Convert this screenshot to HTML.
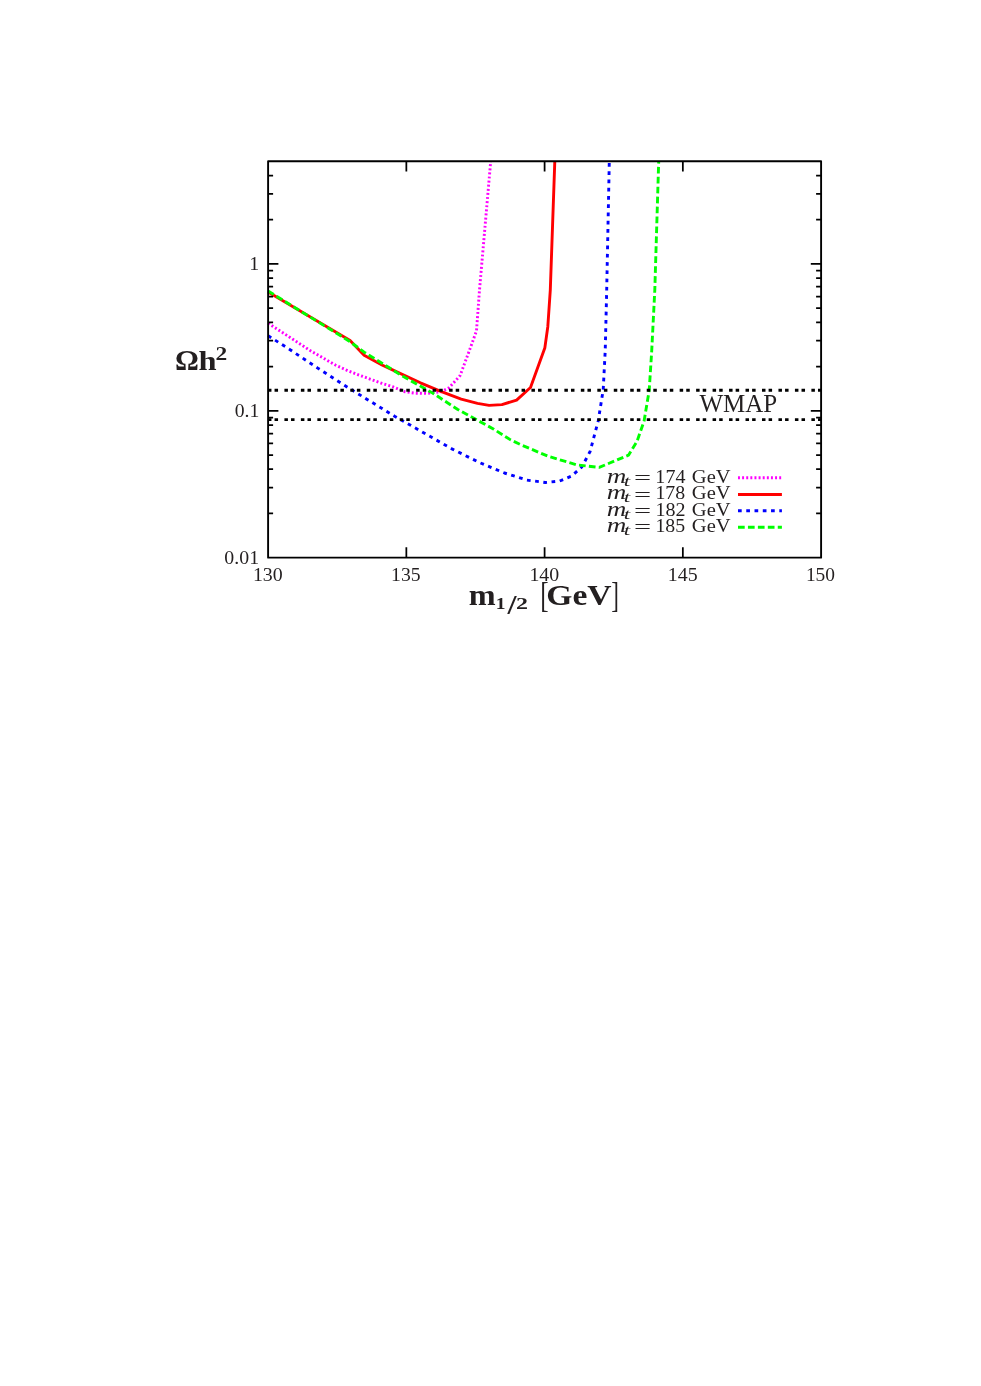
<!DOCTYPE html>
<html><head><meta charset="utf-8"><title>plot</title>
<style>
html,body{margin:0;padding:0;background:#fff;}
svg{display:block;}
text{font-family:"Liberation Serif",serif;fill:#231f20;}
.b{font-weight:bold;}
.i{font-style:italic;}
</style></head><body>
<svg width="981" height="1386" viewBox="0 0 981 1386">
<rect width="981" height="1386" fill="#fff"/>
<g fill="none" stroke-width="2.9" stroke-linejoin="round">
<polyline points="268.1,323.2 286.5,335.1 310.9,351 335.4,365 347.6,370.6 359.9,375.4 382,383.4 392.5,386.6 404.7,391.7 415,393.2 426.5,393.4 440.8,391.9 448.9,387.9 460.1,375.6 471.4,345 476.5,330.8 479.5,290 490.7,161.3" stroke="#f0f" stroke-dasharray="1.95 2.17"/>
<polyline points="268.1,292.0 350.1,340.6 364.1,355.3 382,365 392.5,369.9 420.4,382.8 440.8,391.3 461.2,399.1 477.5,403.4 489.1,405.4 501.9,404.6 516.6,400.1 530.5,387.5 544.8,348.1 547.8,326.7 550.3,290 554.8,161.3" stroke="#f00"/>
<polyline points="268.1,335.7 290.1,349.75 317.7,368.1 345.2,385.8 366,398.7 394.6,416.2 451.4,448.6 480,462.8 504.5,473 526.9,480.1 545.2,482.5 559.5,481.1 571.7,476 581.9,466.8 590.1,451.5 598.2,421 603.2,389.9 605.2,351.2 606.7,290 609.3,161.3" stroke="#00f" stroke-dasharray="3.7 4.56"/>
<polyline points="268.1,291.0 349.7,341.4 364.1,352.2 382,363.2 392.5,369.7 400,374.6 432.6,393 457.8,409.5 493.8,429.2 510.6,439.9 521.4,445 548.5,456.4 577,464.9 599.2,467.4 628.5,455.2 637,441.4 644.1,421 649.2,390.4 651.7,351.2 654.8,290 658.7,161.3" stroke="#0f0" stroke-dasharray="6.7 3.24"/>
<path d="M267.95 390.26H821.1M267.95 419.68H821.1" stroke="#000" stroke-width="2.8" stroke-dasharray="3.5 3.1 3.5 6.368"/>
<path d="M738 477.8h43.9" stroke="#f0f" stroke-dasharray="1.95 2.17"/>
<path d="M738 494.5h43.9" stroke="#f00"/>
<path d="M738 510.7h43.9" stroke="#00f" stroke-dasharray="3.7 4.56"/>
<path d="M738 527.3h43.9" stroke="#0f0" stroke-dasharray="6.7 3.24"/>
</g>
<rect x="268.1" y="161.25" width="553.00" height="396.40" fill="none" stroke="#000" stroke-width="1.9" stroke-linejoin="round"/>
<path d="M406.35 557.65v-10.3M406.35 161.25v10.3M544.60 557.65v-10.3M544.60 161.25v10.3M682.85 557.65v-10.3M682.85 161.25v10.3M268.1 513.44h5.0M821.1 513.44h-5.0M268.1 487.58h5.0M821.1 487.58h-5.0M268.1 469.24h5.0M821.1 469.24h-5.0M268.1 455.01h5.0M821.1 455.01h-5.0M268.1 443.38h5.0M821.1 443.38h-5.0M268.1 433.55h5.0M821.1 433.55h-5.0M268.1 425.03h5.0M821.1 425.03h-5.0M268.1 417.52h5.0M821.1 417.52h-5.0M268.1 410.80h10.3M821.1 410.80h-10.3M268.1 366.59h5.0M821.1 366.59h-5.0M268.1 340.73h5.0M821.1 340.73h-5.0M268.1 322.39h5.0M821.1 322.39h-5.0M268.1 308.16h5.0M821.1 308.16h-5.0M268.1 296.53h5.0M821.1 296.53h-5.0M268.1 286.70h5.0M821.1 286.70h-5.0M268.1 278.18h5.0M821.1 278.18h-5.0M268.1 270.67h5.0M821.1 270.67h-5.0M268.1 263.95h10.3M821.1 263.95h-10.3M268.1 219.74h5.0M821.1 219.74h-5.0M268.1 193.88h5.0M821.1 193.88h-5.0M268.1 175.54h5.0M821.1 175.54h-5.0" stroke="#000" stroke-width="1.75" fill="none"/>
<defs><filter id="n" x="0" y="0" width="981" height="1386" filterUnits="userSpaceOnUse"><feOffset dx="0" dy="0"/></filter></defs>
<g filter="url(#n)">
<text x="252.92" y="580.6" textLength="29.86" lengthAdjust="spacingAndGlyphs" font-size="19.8">130</text>
<text x="391.06" y="580.6" textLength="29.5" lengthAdjust="spacingAndGlyphs" font-size="19.8">135</text>
<text x="529.42" y="580.6" textLength="29.8" lengthAdjust="spacingAndGlyphs" font-size="19.8">140</text>
<text x="667.75" y="580.6" textLength="29.86" lengthAdjust="spacingAndGlyphs" font-size="19.8">145</text>
<text x="805.92" y="580.6" textLength="29.09" lengthAdjust="spacingAndGlyphs" font-size="19.8">150</text>
<text x="224.39" y="564.2" textLength="34.68" lengthAdjust="spacingAndGlyphs" font-size="19.8">0.01</text>
<text x="234.73" y="417.1" textLength="24.62" lengthAdjust="spacingAndGlyphs" font-size="19.8">0.1</text>
<text x="249.28" y="270.1" textLength="9.95" lengthAdjust="spacingAndGlyphs" font-size="19.8">1</text>
<text x="699.44" y="412.4" textLength="77.82" lengthAdjust="spacingAndGlyphs" font-size="24.6">WMAP</text>
<text x="606.78" y="482.8" textLength="19.59" lengthAdjust="spacingAndGlyphs" font-size="20.3" class="i">m</text>
<text x="623.79" y="485.7" textLength="6.45" lengthAdjust="spacingAndGlyphs" font-size="14.5" class="i">t</text>
<text x="634.12" y="484.1" textLength="17.12" lengthAdjust="spacingAndGlyphs" font-size="19.8">=</text>
<text x="655.38" y="482.8" textLength="30.04" lengthAdjust="spacingAndGlyphs" font-size="19.8">174</text>
<text x="691.85" y="482.8" textLength="38.74" lengthAdjust="spacingAndGlyphs" font-size="19.8">GeV</text>
<text x="606.78" y="499.25" textLength="19.59" lengthAdjust="spacingAndGlyphs" font-size="20.3" class="i">m</text>
<text x="623.79" y="502.15" textLength="6.45" lengthAdjust="spacingAndGlyphs" font-size="14.5" class="i">t</text>
<text x="634.12" y="500.55" textLength="17.12" lengthAdjust="spacingAndGlyphs" font-size="19.8">=</text>
<text x="655.44" y="499.25" textLength="29.74" lengthAdjust="spacingAndGlyphs" font-size="19.8">178</text>
<text x="691.85" y="499.25" textLength="38.74" lengthAdjust="spacingAndGlyphs" font-size="19.8">GeV</text>
<text x="606.78" y="515.7" textLength="19.59" lengthAdjust="spacingAndGlyphs" font-size="20.3" class="i">m</text>
<text x="623.79" y="518.6" textLength="6.45" lengthAdjust="spacingAndGlyphs" font-size="14.5" class="i">t</text>
<text x="634.12" y="517.0" textLength="17.12" lengthAdjust="spacingAndGlyphs" font-size="19.8">=</text>
<text x="655.45" y="515.7" textLength="30.05" lengthAdjust="spacingAndGlyphs" font-size="19.8">182</text>
<text x="691.85" y="515.7" textLength="38.74" lengthAdjust="spacingAndGlyphs" font-size="19.8">GeV</text>
<text x="606.78" y="532.15" textLength="19.59" lengthAdjust="spacingAndGlyphs" font-size="20.3" class="i">m</text>
<text x="623.79" y="535.05" textLength="6.45" lengthAdjust="spacingAndGlyphs" font-size="14.5" class="i">t</text>
<text x="634.12" y="533.4499999999999" textLength="17.12" lengthAdjust="spacingAndGlyphs" font-size="19.8">=</text>
<text x="655.44" y="532.15" textLength="29.72" lengthAdjust="spacingAndGlyphs" font-size="19.8">185</text>
<text x="691.85" y="532.15" textLength="38.74" lengthAdjust="spacingAndGlyphs" font-size="19.8">GeV</text>
<text x="174.91" y="370.4" textLength="23.89" lengthAdjust="spacingAndGlyphs" font-size="29.6" class="b">Ω</text>
<text x="198.64" y="370.4" textLength="18.08" lengthAdjust="spacingAndGlyphs" font-size="27.8" class="b">h</text>
<text x="215.63" y="360.0" textLength="11.71" lengthAdjust="spacingAndGlyphs" font-size="18.6" class="b">2</text>
<text x="468.74" y="604.8" textLength="26.92" lengthAdjust="spacingAndGlyphs" font-size="29.2" class="b">m</text>
<text x="495.75" y="608.8" textLength="9.76" lengthAdjust="spacingAndGlyphs" font-size="17" class="b">1</text>
<text x="507.43" y="613.6" textLength="9.02" lengthAdjust="spacingAndGlyphs" font-size="27.5" class="b">/</text>
<text x="516.06" y="608.8" textLength="11.99" lengthAdjust="spacingAndGlyphs" font-size="17" class="b">2</text>
<text x="540.13" y="606.5" textLength="8.41" lengthAdjust="spacingAndGlyphs" font-size="35">[</text>
<text x="546.37" y="604.8" textLength="65.27" lengthAdjust="spacingAndGlyphs" font-size="29.2" class="b">GeV</text>
<text x="611.27" y="606.5" textLength="7.66" lengthAdjust="spacingAndGlyphs" font-size="35">]</text>
</g>
</svg>
</body></html>
